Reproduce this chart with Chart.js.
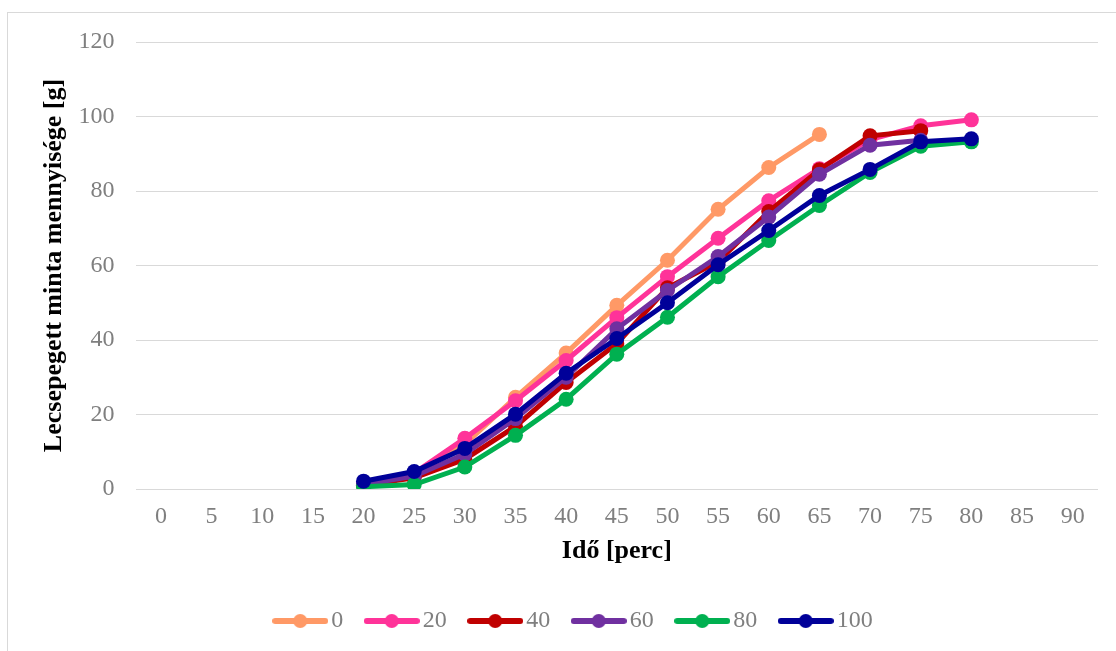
<!DOCTYPE html>
<html>
<head>
<meta charset="utf-8">
<script src="https://cdn.jsdelivr.net/npm/chart.js@4"></script>
<style>
  html, body { margin: 0; padding: 0; background: #fff; overflow: hidden; }
  #frame { position: absolute; left: 7px; top: 12px; width: 1120px; height: 660px; border: 1px solid #d9d9d9; }
  #wrap { position: absolute; left: 0; top: 0; width: 1116px; height: 651px; }
</style>
</head>
<body>
<div id="frame"></div>
<div id="wrap"><canvas id="myChart"></canvas></div>
<script>
const xLabels = ["0", "5", "10", "15", "20", "25", "30", "35", "40", "45", "50", "55", "60", "65", "70", "75", "80", "85", "90"];
const seriesNames = ["0", "20", "40", "60", "80", "100"];
const seriesColors = ["#FF9966", "#FF3399", "#C00000", "#7030A0", "#00B050", "#000099"];

// mérések 20 perctől, 5 percenként
const startIndex = 4;
const s0 = [1.0, 4.0, 12.0, 24.6, 36.5, 49.3, 61.4, 75.1, 86.3, 95.2];
const s20 = [1.5, 4.3, 13.6, 23.7, 34.5, 46.0, 57.0, 67.3, 77.4, 86.0, 93.8, 97.5, 99.1];
const s40 = [1.0, 3.0, 8.0, 16.8, 28.6, 39.0, 54.0, 61.0, 74.5, 85.7, 94.8, 96.2];
const s60 = [1.2, 3.5, 9.4, 18.9, 30.0, 43.0, 53.3, 62.4, 73.0, 84.5, 92.3, 93.6];
const s80 = [0.6, 1.2, 5.9, 14.4, 24.1, 36.2, 46.1, 57.0, 66.7, 76.1, 85.0, 92.0, 93.2];
const s100 = [2.1, 4.7, 10.9, 20.1, 31.1, 40.4, 50.0, 60.2, 69.4, 78.8, 85.8, 93.2, 94.0];
const yTicks = [0, 20, 40, 60, 80, 100, 120];

const allSeries = [s0, s20, s40, s60, s80, s100];
const serif = "'Liberation Serif', 'Times New Roman', serif";

function legendImage(color) {
  const c = document.createElement("canvas");
  c.width = 56;
  c.height = 16;
  const ctx = c.getContext("2d");
  ctx.strokeStyle = color;
  ctx.lineWidth = 6;
  ctx.lineCap = "round";
  ctx.beginPath();
  ctx.moveTo(3, 8);
  ctx.lineTo(53, 8);
  ctx.stroke();
  ctx.fillStyle = color;
  ctx.beginPath();
  ctx.arc(28, 8, 7, 0, Math.PI * 2);
  ctx.fill();
  return c;
}
const legendImages = seriesColors.map(legendImage);

const datasets = allSeries.map((vals, i) => {
  const padded = new Array(startIndex).fill(null).concat(vals);
  return {
    label: seriesNames[i],
    data: padded,
    borderColor: seriesColors[i],
    backgroundColor: seriesColors[i],
    borderWidth: 5,
    pointRadius: 7.5,
    pointBorderWidth: 0,
    pointBackgroundColor: seriesColors[i],
    order: allSeries.length - i,
    tension: 0
  };
});

const shiftLegend = {
  id: "shiftLegend",
  afterLayout(chart) {
    if (chart.legend) {
      chart.legend.left += 28;
      chart.legend.right += 28;
    }
  }
};

const config = {
  type: "line",
  data: { labels: xLabels, datasets },
  plugins: [shiftLegend],
  options: {
    responsive: true,
    maintainAspectRatio: false,
    animation: false,
    layout: { padding: { top: 42, left: 0, right: 18, bottom: 8 } },
    plugins: {
      tooltip: { enabled: false },
      legend: {
        position: "bottom",
        labels: {
          usePointStyle: true,
          pointStyleWidth: 38,
          padding: 29.5,
          color: "#7F7F7F",
          font: { family: serif, size: 24 },
          sort: (a, b) => a.datasetIndex - b.datasetIndex,
          generateLabels(chart) {
            const items = Chart.defaults.plugins.legend.labels.generateLabels(chart);
            items.forEach(it => { it.pointStyle = legendImages[it.datasetIndex]; });
            return items;
          }
        }
      }
    },
    scales: {
      x: {
        type: "category",
        offset: true,
        grid: { display: false },
        border: { display: false },
        ticks: {
          autoSkip: false,
          maxRotation: 0,
          padding: 5,
          color: "#7F7F7F",
          font: { family: serif, size: 24 }
        },
        title: {
          display: true,
          text: "Idő [perc]",
          color: "#000",
          font: { family: serif, size: 26, weight: "bold" },
          padding: { top: 0, bottom: 12.5 }
        }
      },
      y: {
        min: 0,
        max: 120,
        afterBuildTicks(axis) { axis.ticks = yTicks.map(v => ({ value: v })); },
        grid: { color: "#D9D9D9", lineWidth: 1, drawTicks: false },
        border: { display: false },
        ticks: {
          padding: 21,
          color: "#7F7F7F",
          font: { family: serif, size: 24 }
        },
        title: {
          display: true,
          text: "Lecsepegett minta mennyisége [g]",
          color: "#000",
          font: { family: serif, size: 26, weight: "bold" },
          padding: { top: 39, bottom: -12.6 }
        }
      }
    }
  }
};

const myChart = new Chart(document.getElementById("myChart"), config);
</script>
</body>
</html>
